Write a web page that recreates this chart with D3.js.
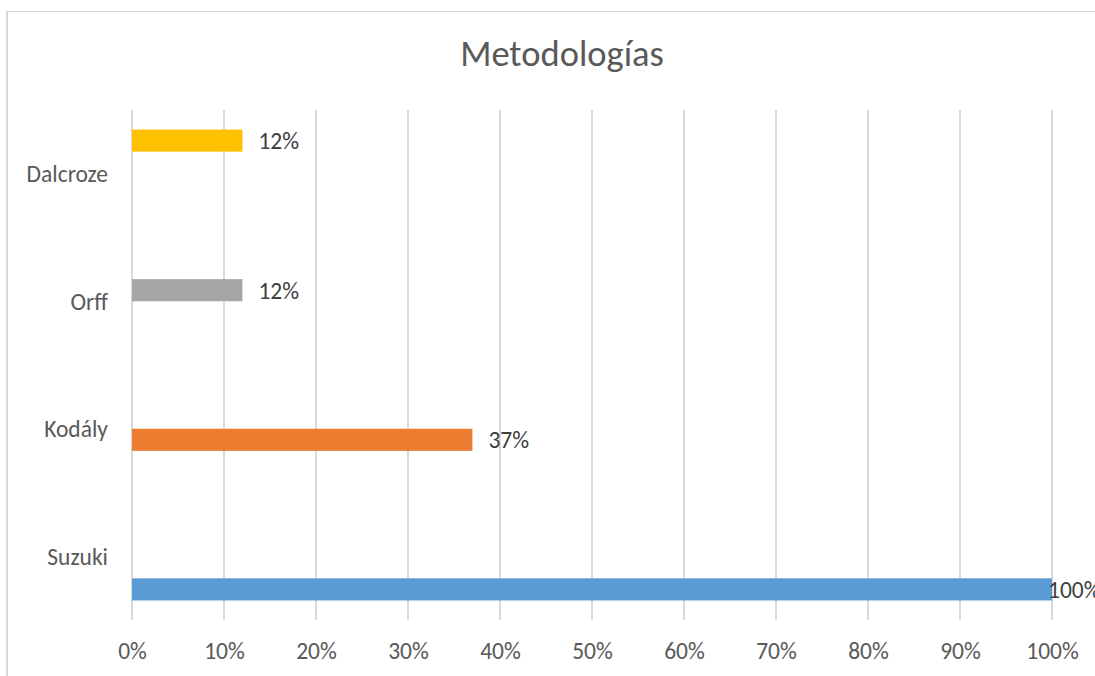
<!DOCTYPE html>
<html>
<head>
<meta charset="utf-8">
<script src="https://cdn.jsdelivr.net/npm/d3@7"></script>
<style>
  html, body { margin: 0; padding: 0; background: #fff; }
  svg { display: block; }
  text { font-family: Carlito, Calibri, Lato, sans-serif; }
</style>
</head>
<body>
<svg id="chart" width="1095" height="676"></svg>
<script>
// ---- data ----
const title = "Metodologías";
const categories = ["Dalcroze", "Orff", "Kodály", "Suzuki"];
const seriesNames = ["Dalcroze", "Orff", "Kodály", "Suzuki"];
const dalcrozeValues = [0.12, null, null, null];
const orffValues = [null, 0.12, null, null];
const kodalyValues = [null, null, 0.37, null];
const suzukiValues = [null, null, null, 1.00];
const seriesColors = ["#FFC000", "#A5A5A5", "#ED7D31", "#5B9BD5"];
const xTicks = [0, 0.1, 0.2, 0.3, 0.4, 0.5, 0.6, 0.7, 0.8, 0.9, 1.0];

const seriesValues = [dalcrozeValues, orffValues, kodalyValues, suzukiValues];
const FONT = "Carlito, Calibri, Lato, sans-serif";
const FS = 23.5;

const svg = d3.select("#chart");

// chart border (left + top visible)
svg.append("line").attr("x1", 7).attr("x2", 7).attr("y1", 11).attr("y2", 676)
  .attr("stroke", "#d9d9d9").attr("stroke-width", 2);
svg.append("line").attr("x1", 6).attr("x2", 1095).attr("y1", 11.5).attr("y2", 11.5)
  .attr("stroke", "#d9d9d9").attr("stroke-width", 1);

const plot = { left: 132, right: 1052, top: 110, bottom: 620 };

const x = d3.scaleLinear().domain([0, 1]).range([plot.left, plot.right]);
const y0 = d3.scaleBand().domain(categories).range([plot.top, plot.bottom]).padding(0);
const y1 = d3.scaleBand().domain(seriesNames).range([0, y0.bandwidth()])
  .paddingInner(0).paddingOuter(0.885);

// gridlines
svg.append("g").selectAll("line").data(xTicks).join("line")
  .attr("x1", d => x(d)).attr("x2", d => x(d))
  .attr("y1", plot.top).attr("y2", plot.bottom)
  .attr("stroke", "#d9d9d9").attr("stroke-width", 2);

// x axis labels
const xAxis = d3.axisBottom(x).tickValues(xTicks).tickFormat(d3.format(".0%")).tickSize(0).tickPadding(0);
const gx = svg.append("g").attr("transform", `translate(0, ${plot.bottom})`).call(xAxis);
gx.select(".domain").remove();
gx.selectAll("text").attr("dy", null).attr("y", 39)
  .attr("font-size", FS).attr("fill", "#595959").style("font-family", FONT);

// y axis labels
const yAxis = d3.axisLeft(y0).tickSize(0).tickPadding(0);
const gy = svg.append("g").attr("transform", `translate(${plot.left - 24}, 0)`).call(yAxis);
gy.select(".domain").remove();
gy.selectAll("text").attr("font-size", FS).attr("fill", "#595959")
  .attr("dy", "0.36em").style("font-family", FONT);

// bars
const barData = [];
seriesValues.forEach((vals, si) => {
  vals.forEach((v, ci) => {
    if (v != null) barData.push({ series: seriesNames[si], cat: categories[ci], value: v, color: seriesColors[si] });
  });
});

svg.append("g").selectAll("rect").data(barData).join("rect")
  .attr("x", x(0))
  .attr("y", d => y0(d.cat) + y1(d.series))
  .attr("width", d => x(d.value) - x(0))
  .attr("height", y1.bandwidth())
  .attr("fill", d => d.color);

// data labels
svg.append("g").selectAll("text").data(barData).join("text")
  .attr("x", d => d.value >= 1 ? x(d.value) - 4 : x(d.value) + 16)
  .attr("y", d => y0(d.cat) + y1(d.series) + y1.bandwidth() / 2)
  .attr("dy", "0.36em")
  .attr("font-size", FS)
  .attr("fill", "#404040")
  .style("font-family", FONT)
  .text(d => d3.format(".0%")(d.value));

// title
svg.append("text").attr("x", 562).attr("y", 66).attr("text-anchor", "middle")
  .attr("font-size", 36.5).attr("fill", "#595959")
  .style("font-family", FONT)
  .text(title);
</script>
</body>
</html>
